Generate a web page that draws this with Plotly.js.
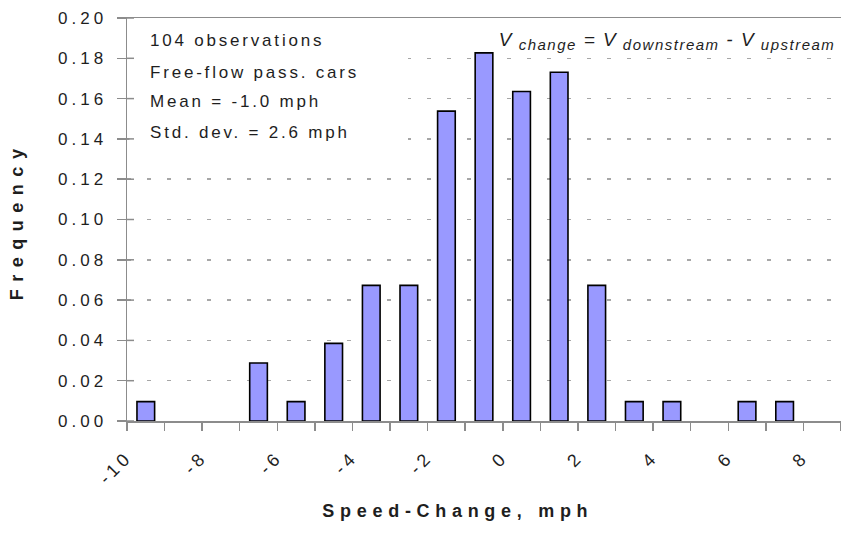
<!DOCTYPE html>
<html>
<head>
<meta charset="utf-8">
<script src="https://cdn.plot.ly/plotly-3.0.1.min.js"></script>
<style>
  html, body { margin: 0; padding: 0; background: #fff; }
  #chart { width: 841px; height: 542px; }
  .ytick text { letter-spacing: 4px; }
  .xtick text { letter-spacing: 4px; }
  .annotation-text { letter-spacing: 2.8px; }
</style>
</head>
<body>
<div id="chart"></div>
<script>
// Bin centres (mph) and relative frequency
const binCenters = [-9.5, -6.5, -5.5, -4.5, -3.5, -2.5, -1.5, -0.5, 0.5, 1.5, 2.5, 3.5, 4.5, 6.5, 7.5];
const frequency  = [0.0096, 0.0288, 0.0096, 0.0385, 0.0673, 0.0673, 0.1538, 0.1827, 0.1635, 0.1731, 0.0673, 0.0096, 0.0096, 0.0096, 0.0096];

// Axis ticks
const xTickVals = [-10, -8, -6, -4, -2, 0, 2, 4, 6, 8];
const xTickText = ['-10', '-8', '-6', '-4', '-2', '0', '2', '4', '6', '8'];
const yTickVals = [0, 0.02, 0.04, 0.06, 0.08, 0.10, 0.12, 0.14, 0.16, 0.18, 0.20];
const yTickText = ['0.00', '0.02', '0.04', '0.06', '0.08', '0.10', '0.12', '0.14', '0.16', '0.18', '0.20'];

// Text blocks
const infoLines = ['104 observations', 'Free-flow pass. cars', 'Mean = -1.0 mph', 'Std. dev. = 2.6 mph'];
const subs = ['change', 'downstream', 'upstream'];
const sub = s => '<sub><span style="font-size:15px"> ' + s + '</span></sub>';
const formulaText = '<i>V' + sub(subs[0]) + ' = V' + sub(subs[1]) + ' - V' + sub(subs[2]) + '</i>';
const xTitle = 'Speed-Change, mph';
const yTitle = 'Frequency';

const FONT = 'Arial, "Liberation Sans", sans-serif';
const TXT = '#1e1e1e';
const AXC = '#8c8c8c';
const L = 127, T = 18, B = 121, R = 0;
const W = 841, H = 542;
const plotW = W - L - R, plotH = H - T - B;
const px = x => (x - L) / plotW;
const py = y => (H - B - y) / plotH;

const infoY = [41, 72, 102, 132];
const annotations = infoLines.map((t, i) => ({
  text: t, xref: 'paper', yref: 'paper', x: px(148), y: py(infoY[i]),
  xanchor: 'left', yanchor: 'middle', align: 'left', showarrow: false,
  font: {family: FONT, size: 17, color: TXT}
}));
annotations.push({
  text: formulaText, xref: 'paper', yref: 'paper', x: px(837), y: py(41),
  xanchor: 'right', yanchor: 'middle', align: 'right', showarrow: false,
  font: {family: FONT, size: 19, color: TXT}
});
annotations.push({
  text: '<b>' + xTitle + '</b>', xref: 'paper', yref: 'paper', x: px(458), y: py(511),
  xanchor: 'center', yanchor: 'middle', align: 'center', showarrow: false,
  font: {family: FONT, size: 18, color: TXT}
});
annotations.push({
  text: '<b>' + yTitle + '</b>', xref: 'paper', yref: 'paper', x: px(17), y: py(221),
  xanchor: 'center', yanchor: 'middle', align: 'center', showarrow: false, textangle: -90,
  font: {family: FONT, size: 18, color: TXT}
});

const trace = {
  type: 'bar',
  x: binCenters,
  y: frequency,
  width: 0.47,
  marker: {color: '#9999ff', line: {color: '#000000', width: 1.6}},
  hoverinfo: 'x+y'
};

// white panel behind the statistics block, then the inner halves of the y ticks
const shapes = [{
  type: 'rect', xref: 'paper', yref: 'paper', layer: 'above',
  x0: px(129.5), x1: px(408), y0: py(152), y1: py(22),
  fillcolor: '#ffffff', line: {width: 0}
}].concat(yTickVals.map(v => ({
  type: 'line', xref: 'paper', yref: 'y', layer: 'above',
  x0: 0, x1: 7 / plotW, y0: v, y1: v,
  line: {color: AXC, width: 1.5}
})));

const layout = {
  width: W, height: H,
  margin: {l: L, r: R, t: T, b: B, pad: 0},
  paper_bgcolor: '#ffffff',
  plot_bgcolor: '#ffffff',
  showlegend: false,
  font: {family: FONT, size: 17, color: TXT},
  xaxis: {
    range: [-10, 9],
    tickmode: 'array',
    tickvals: xTickVals,
    ticktext: xTickText,
    tickangle: -45,
    ticks: 'outside', ticklen: 8, tickwidth: 1.5, tickcolor: AXC,
    minor: {tick0: -10, dtick: 1, ticks: 'outside', ticklen: 8, tickwidth: 1.5, tickcolor: AXC, showgrid: false},
    ticklabelstandoff: 9,
    showline: true, linecolor: AXC, linewidth: 1.5, mirror: true,
    showgrid: false, zeroline: false,
    tickfont: {family: FONT, size: 18, color: TXT}
  },
  yaxis: {
    range: [0, 0.2],
    tickmode: 'array',
    tickvals: yTickVals,
    ticktext: yTickText,
    ticks: 'outside', ticklen: 9, tickwidth: 1.5, tickcolor: AXC,
    ticklabelstandoff: 6,
    showline: true, linecolor: AXC, linewidth: 1.5, mirror: false,
    showgrid: true, gridcolor: '#a6a6a6', gridwidth: 1.5, griddash: '4px,16px',
    zeroline: false,
    tickfont: {family: FONT, size: 17, color: TXT}
  },
  shapes: shapes,
  annotations: annotations
};

function spacing() {
  document.querySelectorAll('.annotation-text').forEach(t => {
    const s = t.textContent;
    if (s === xTitle) t.style.letterSpacing = '5.7px';
    else if (s === yTitle) t.style.letterSpacing = '7.5px';
    else if (s.indexOf(subs[1]) >= 0) t.style.letterSpacing = '1.5px';
  });
}
Plotly.newPlot('chart', [trace], layout, {displayModeBar: false, staticPlot: true})
  .then(spacing, spacing);
</script>
</body>
</html>
